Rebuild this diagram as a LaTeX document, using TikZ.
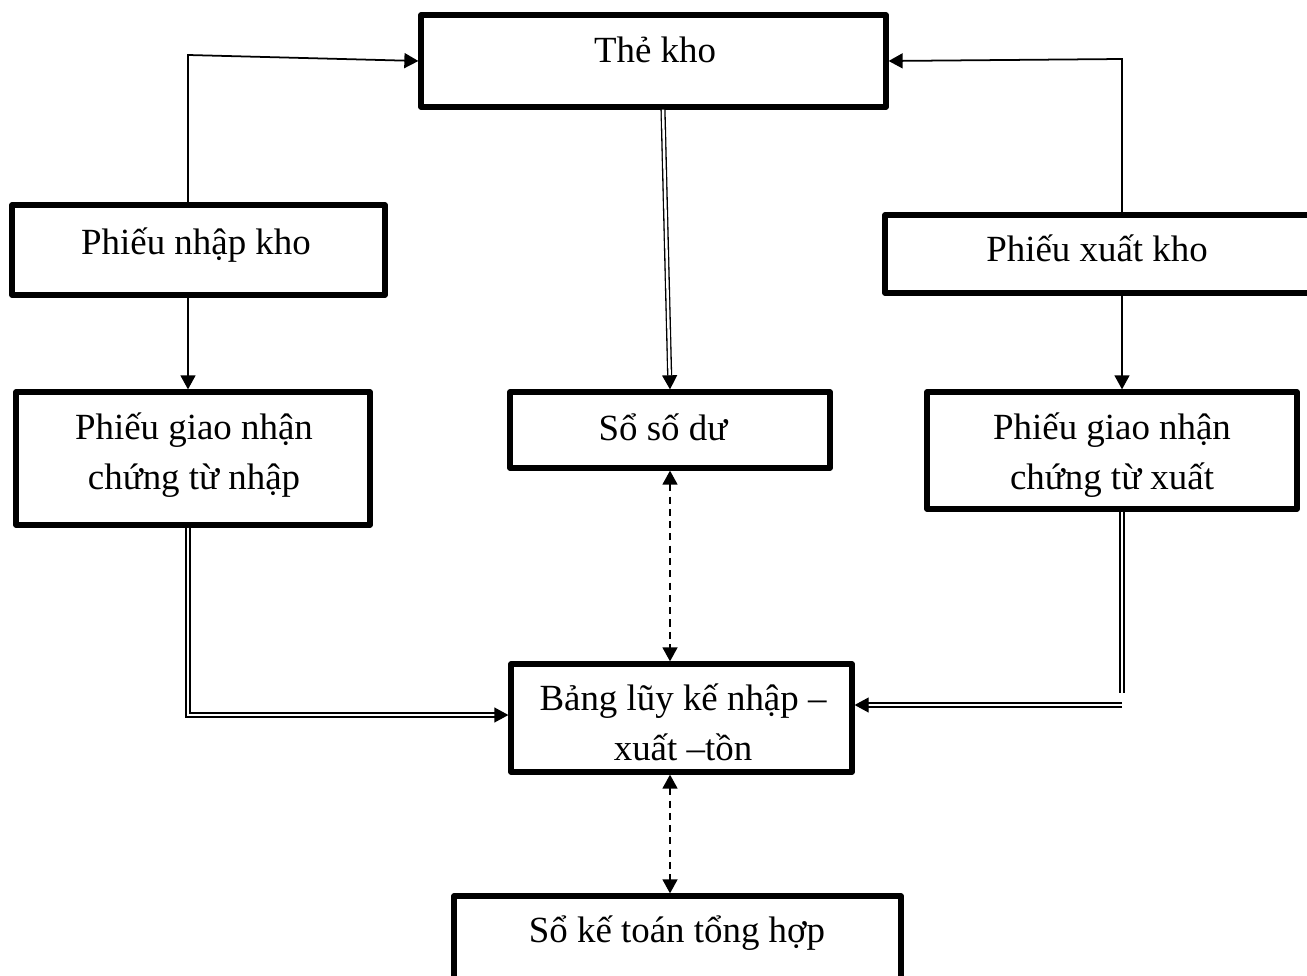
\documentclass[tikz,border=0pt]{standalone}
\usepackage{fontspec}
\setmainfont{Liberation Serif}
\usetikzlibrary{arrows.meta}
\begin{document}
\begin{tikzpicture}[x=0.02cm,y=-0.02cm,
  box/.style={draw, line width=3pt, rectangle, inner sep=0pt, line join=round},
  txt/.style={font=\fontsize{21}{28}\selectfont, align=center, anchor=base, inner sep=0pt},
  tipA/.tip={Triangle[length=8pt,width=8.5pt]},
  conn/.style={line width=1pt, -tipA},
  dblline/.style={double, line width=0.75pt, double distance=1.4pt},
  dbl/.style={dblline, -tipA},
  dsh/.style={line width=1.1pt, dash pattern=on 4pt off 3pt, tipA-tipA},
]
\useasboundingbox (0,0) rectangle (1307,976);

% boxes
\node[box, minimum width=9.3cm,  minimum height=1.84cm] (the)  at (653.5,61)   {};
\node[box, minimum width=7.46cm, minimum height=1.8cm]  (nhap) at (198.5,250)  {};
\node[box, minimum width=8.6cm,  minimum height=1.56cm] (xuat) at (1100,254)   {};
\node[box, minimum width=7.08cm, minimum height=2.66cm] (gnn)  at (193,458.5)  {};
\node[box, minimum width=6.4cm,  minimum height=1.52cm] (sodu) at (670,430)    {};
\node[box, minimum width=7.4cm,  minimum height=2.34cm] (gnx)  at (1112,450.5) {};
\node[box, minimum width=6.82cm, minimum height=2.16cm] (bang) at (681.5,718)  {};
\node[box, minimum width=8.94cm, minimum height=2.28cm] (sokt) at (677.5,953)  {};

% labels (base anchor = baseline of the last line)
\node[txt] (tthe)  at (655,63)   {Thẻ kho};
\node[txt] (tnhap) at (196,255)  {Phiếu nhập kho};
\node[txt] (txuat) at (1097,262) {Phiếu xuất kho};
\node[txt] (tgnn)  at (194,489)  {Phiếu giao nhận\\chứng từ nhập};
\node[txt] (tsodu) at (663,440)  {Sổ số dư};
\node[txt] (tgnx)  at (1112,489) {Phiếu giao nhận\\chứng từ xuất};
\node[txt] (tbang) at (683,760)  {Bảng lũy kế nhập –\\xuất –tồn};
\node[txt] (tsokt) at (677,942)  {Sổ kế toán tổng hợp};

% routing points
\coordinate (lt) at (188,55);
\coordinate (rt) at (1122,59);
\coordinate (lb) at (188,715);
\coordinate (rb1) at (1122,693);
\coordinate (rb2) at (1122,705);
\coordinate (m1) at (663,0);
\coordinate (m2) at (670,0);

% single connectors
\draw[conn] (nhap.north -| lt) -- (lt) -- (the.west);
\draw[conn] (xuat.north -| rt) -- (rt) -- (the.east);
\draw[conn] (nhap.south -| lt) -- (gnn.north -| lt);
\draw[conn] (xuat.south -| rt) -- (gnx.north -| rt);

% double connectors
\draw[dbl] (the.south -| m1) -- (sodu.north -| m2);
\draw[dbl] (gnn.south -| lb) -- (lb) -- (lb -| bang.west);
\draw[dblline] (gnx.south -| rb1) -- (rb1);
\draw[dbl] (rb2) -- (rb2 -| bang.east);

% dashed two-way connectors
\draw[dsh] (sodu.south -| m2) -- (bang.north -| m2);
\draw[dsh] (bang.south -| m2) -- (sokt.north -| m2);
\end{tikzpicture}
\end{document}
